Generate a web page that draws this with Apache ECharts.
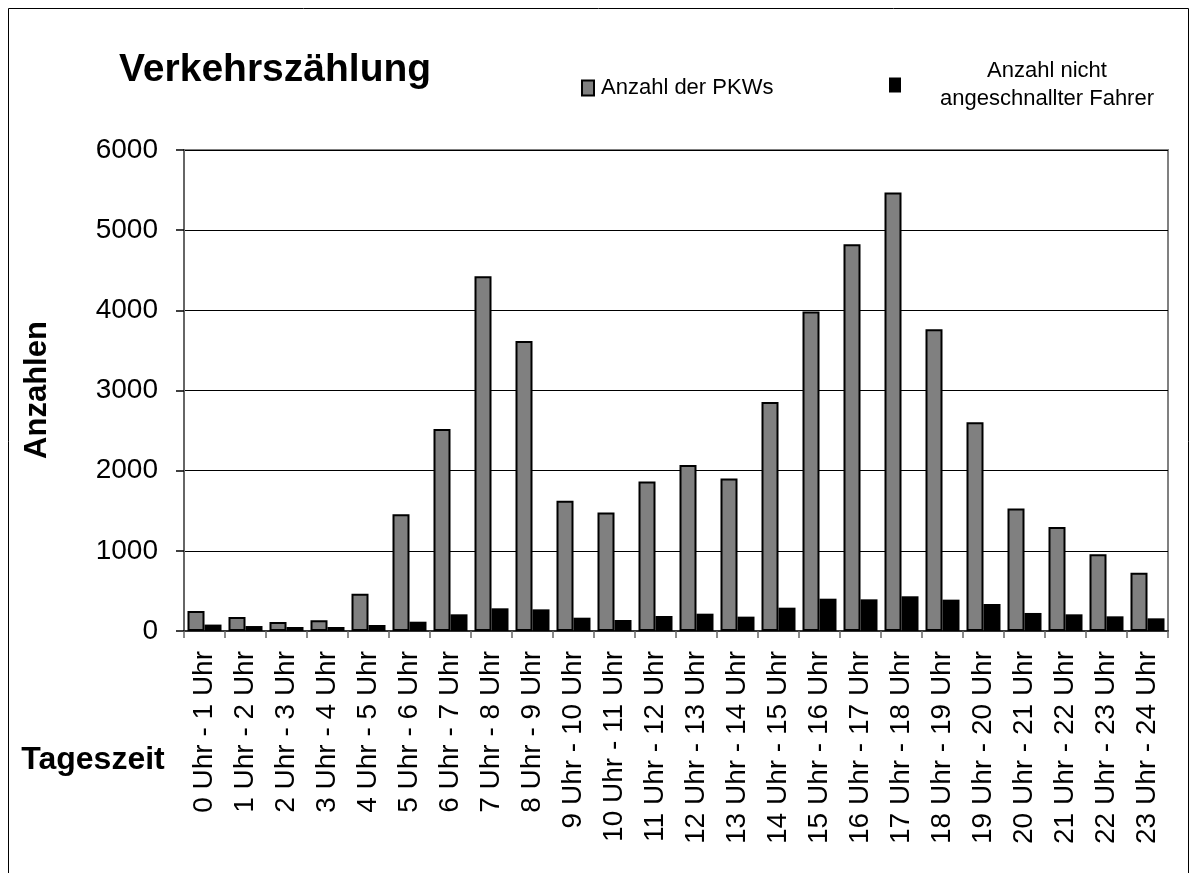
<!DOCTYPE html>
<html>
<head>
<meta charset="utf-8">
<title>Verkehrszählung</title>
<script src="https://cdn.jsdelivr.net/npm/echarts@6/dist/echarts.min.js"></script>
<style>
  html, body { margin: 0; padding: 0; background: #fff; }
  #chart { width: 1197px; height: 873px; }
</style>
</head>
<body>
<div id="chart"></div>
<script>
// Hourly time slots
const categories = [
  '0 Uhr - 1 Uhr', '1 Uhr - 2 Uhr', '2 Uhr - 3 Uhr', '3 Uhr - 4 Uhr',
  '4 Uhr - 5 Uhr', '5 Uhr - 6 Uhr', '6 Uhr - 7 Uhr', '7 Uhr - 8 Uhr',
  '8 Uhr - 9 Uhr', '9 Uhr - 10 Uhr', '10 Uhr - 11 Uhr', '11 Uhr - 12 Uhr',
  '12 Uhr - 13 Uhr', '13 Uhr - 14 Uhr', '14 Uhr - 15 Uhr', '15 Uhr - 16 Uhr',
  '16 Uhr - 17 Uhr', '17 Uhr - 18 Uhr', '18 Uhr - 19 Uhr', '19 Uhr - 20 Uhr',
  '20 Uhr - 21 Uhr', '21 Uhr - 22 Uhr', '22 Uhr - 23 Uhr', '23 Uhr - 24 Uhr'
];

// Number of cars per hour
const pkwCounts = [
  250, 175, 112, 133, 466, 1456, 2521, 4426, 3619, 1626, 1477, 1864,
  2072, 1901, 2858, 3985, 4825, 5470, 3765, 2604, 1527, 1298, 957, 728
];

// Drivers without seat belt per hour
const unbeltedCounts = [
  80, 62, 50, 50, 75, 116, 208, 283, 270, 166, 137, 187,
  216, 179, 291, 403, 395, 433, 391, 337, 225, 208, 183, 158
];

const yTicks = [0, 1000, 2000, 3000, 4000, 5000, 6000];

const FONT = '"Liberation Sans", Arial, Helvetica, sans-serif';

const chart = echarts.init(document.getElementById('chart'), null, { renderer: 'canvas' });

chart.setOption({
  backgroundColor: '#ffffff',
  animation: false,
  textStyle: { fontFamily: FONT, color: '#000' },
  title: {
    text: 'Verkehrszählung',
    left: 114,
    top: 46,
    textStyle: { fontFamily: FONT, fontSize: 39, fontWeight: 'bold', color: '#000' }
  },
  legend: [
    {
      data: ['Anzahl der PKWs'],
      left: 576,
      top: 72,
      itemWidth: 12,
      itemHeight: 15,
      itemGap: 6,
      icon: 'rect',
      selectedMode: false,
      itemStyle: { color: '#808080', borderColor: '#000', borderWidth: 2 },
      textStyle: { fontFamily: FONT, fontSize: 22, color: '#000', padding: [0, 0, 0, 2] }
    },
    {
      data: ['Anzahl nicht angeschnallter Fahrer'],
      left: 884,
      top: 55,
      itemWidth: 12,
      itemHeight: 15,
      icon: 'rect',
      selectedMode: false,
      formatter: () => '{t|Anzahl nicht}\n{t|angeschnallter Fahrer}',
      textStyle: {
        fontFamily: FONT,
        fontSize: 22,
        color: '#000',
        rich: {
          t: { fontFamily: FONT, fontSize: 22, color: '#000', width: 282, align: 'center', lineHeight: 28 }
        }
      }
    }
  ],
  grid: {
    left: 184,
    right: 29,
    top: 150,
    bottom: 242,
    show: true,
    borderColor: '#808080',
    borderWidth: 2,
    backgroundColor: 'transparent'
  },
  xAxis: {
    type: 'category',
    data: categories,
    boundaryGap: true,
    axisLine: { show: true, lineStyle: { color: '#333', width: 2 } },
    axisTick: { show: true, length: 7, lineStyle: { color: '#666', width: 1.5 } },
    axisLabel: {
      rotate: 90,
      interval: 0,
      margin: 20,
      fontFamily: FONT,
      fontSize: 28,
      color: '#000'
    },
    splitLine: { show: false }
  },
  yAxis: {
    type: 'value',
    min: yTicks[0],
    max: yTicks[yTicks.length - 1],
    interval: 1000,
    axisLine: { show: true, lineStyle: { color: '#666', width: 2 } },
    axisTick: { show: true, inside: false, length: 8, lineStyle: { color: '#000', width: 1.5 } },
    axisLabel: {
      margin: 26,
      fontFamily: FONT,
      fontSize: 28,
      color: '#000',
      formatter: v => (yTicks.includes(v) ? String(v) : '')
    },
    splitLine: { show: true, lineStyle: { color: '#000', width: 1.2 } }
  },
  series: [
    {
      name: 'Anzahl der PKWs',
      type: 'bar',
      data: pkwCounts,
      barWidth: 17,
      barGap: '0%',
      itemStyle: { color: '#808080', borderColor: '#000', borderWidth: 2 }
    },
    {
      name: 'Anzahl nicht angeschnallter Fahrer',
      type: 'bar',
      data: unbeltedCounts,
      barWidth: 17,
      barGap: '0%',
      itemStyle: { color: '#000' }
    }
  ],
  graphic: [
    {
      // outer frame of the chart area (open at the bottom)
      type: 'rect',
      silent: true,
      shape: { x: 8.5, y: 8.5, width: 1180, height: 900 },
      style: { fill: 'none', stroke: '#000', lineWidth: 1 }
    },
    {
      type: 'text',
      silent: true,
      x: 37,
      y: 390,
      rotation: Math.PI / 2,
      style: {
        text: 'Anzahlen',
        font: 'bold 31px ' + FONT,
        fill: '#000',
        align: 'center',
        verticalAlign: 'middle'
      }
    },
    {
      type: 'text',
      silent: true,
      x: 93,
      y: 760,
      style: {
        text: 'Tageszeit',
        font: 'bold 32px ' + FONT,
        fill: '#000',
        align: 'center',
        verticalAlign: 'middle'
      }
    }
  ]
});
</script>
</body>
</html>
